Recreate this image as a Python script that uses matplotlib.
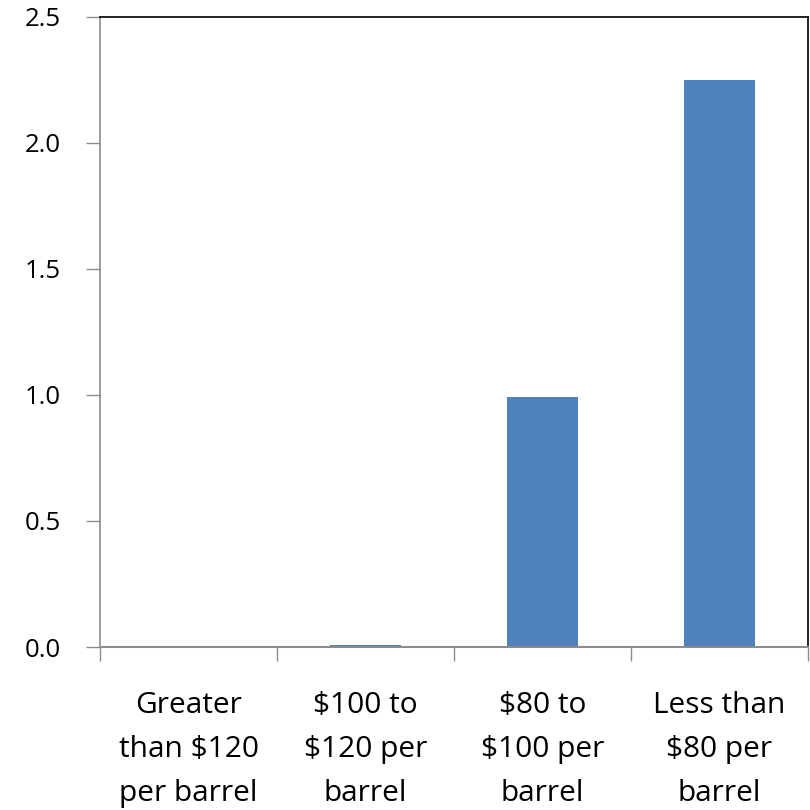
import matplotlib
matplotlib.use("Agg")
import matplotlib.pyplot as plt
import numpy as np

plt.rcParams['font.family'] = ['Open Sans', 'DejaVu Sans']

categories = ["Greater\nthan $120\nper barrel", "$100 to\n$120 per\nbarrel",
              "$80 to\n$100 per\nbarrel", "Less than\n$80 per\nbarrel"]
values = [0.0, 0.01, 0.99, 2.25]
yticks = [0.0, 0.5, 1.0, 1.5, 2.0, 2.5]
ytick_labels = ["0.0", "0.5", "1.0", "1.5", "2.0", "2.5"]

fig = plt.figure(figsize=(8.1, 8.1), dpi=100)
ax = fig.add_axes([0.1235, 0.2012, 0.874, 0.778])

x = np.arange(len(categories))
ax.bar(x, values, width=0.4, color="#4F81BD", zorder=2)

ax.set_xlim(-0.5, len(categories) - 0.5)
ax.set_ylim(0, 2.5)
ax.set_yticks(yticks)
ax.set_yticklabels(ytick_labels, fontsize=18.5)
ax.set_xticks(np.arange(len(categories) + 1) - 0.5)
ax.set_xticklabels([])
ax.set_xticks(x, minor=True)
ax.set_xticklabels(categories, minor=True, fontsize=21.5, linespacing=1.68)
ax.tick_params(axis='x', which='minor', length=0, pad=32)
ax.tick_params(axis='x', which='major', length=10, width=1, color="#8C8C8C", direction='out')
ax.tick_params(axis='y', length=10, width=1, color="#8C8C8C", direction='out', pad=18)

ax.spines['left'].set_color("#8C8C8C")
ax.spines['bottom'].set_color("#8C8C8C")
ax.spines['top'].set_color("black")
ax.spines['right'].set_color("black")
for s in ax.spines.values():
    s.set_linewidth(1.2)
ax.spines['bottom'].set_linewidth(1.5)

fig.savefig("out.png", dpi=100, facecolor="white")
